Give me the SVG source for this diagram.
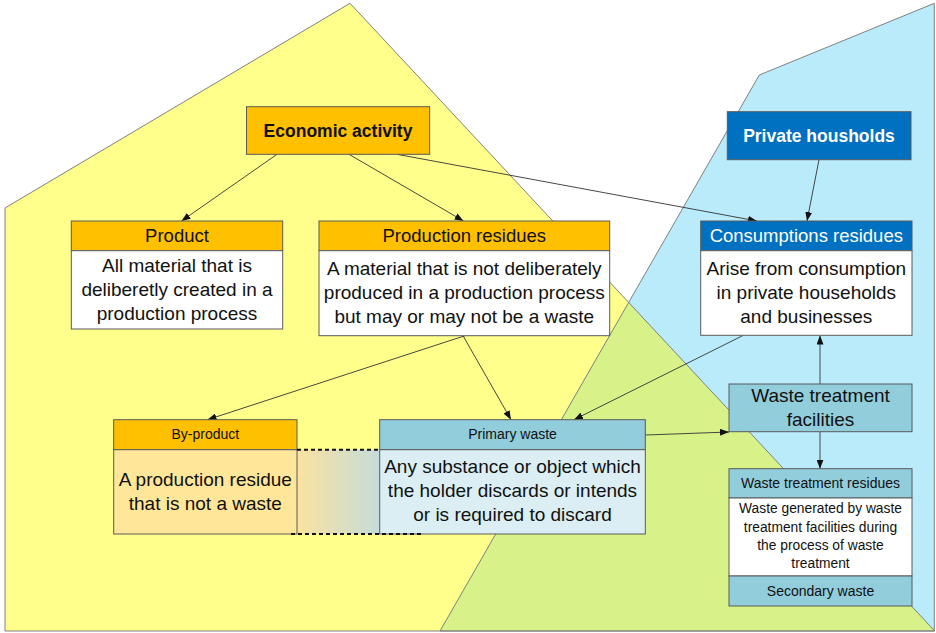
<svg xmlns="http://www.w3.org/2000/svg" width="936" height="633" viewBox="0 0 936 633">
  <defs>
    <style>
      .bg { stroke: none; }
      .outline { fill: none; stroke: #808080; stroke-width: 1; }
      .box { stroke: #5a5a5a; stroke-width: 1; }
      .orange { fill: #FFC000; }
      .blue { fill: #0070C0; }
      .teal { fill: #92CDDC; }
      .white { fill: #FFFFFF; }
      .pale { fill: #DAEEF3; }
      .cream { fill: #FFE699; }
      text { font-family: "Liberation Sans", Arial, sans-serif; text-anchor: middle; fill: #111111; }
      .t-bold { font-weight: bold; font-size: 17.5px; }
      .t-head { font-size: 18.5px; }
      .t-body { font-size: 19px; }
      .t-small { font-size: 14px; }
      .t-tiny { font-size: 13.8px; }
      .t-wt { fill: #FFFFFF; }
      .conn { fill: none; stroke: #333333; stroke-width: 0.9; marker-end: url(#arrow); }
      .dash { fill: none; stroke: #111111; stroke-width: 2; stroke-dasharray: 4 3; }
    </style>
    <marker id="arrow" markerUnits="userSpaceOnUse" markerWidth="9" markerHeight="7" refX="9" refY="3.5" orient="auto">
      <path d="M0,0 L9,3.5 L0,7 z" fill="#111111"/>
    </marker>
    <linearGradient id="fade" x1="0" y1="0" x2="1" y2="0">
      <stop offset="0" stop-color="#FBE29F"/>
      <stop offset="1" stop-color="#C5DCDA"/>
    </linearGradient>
  </defs>

  <!-- background regions -->
  <g id="regions">
    <polygon class="bg" fill="#FFFF8C" points="5,208 350,3.3 934.7,631 5,631"/>
    <polygon class="bg" fill="#B9EBFA" points="440,631 759.3,75 934.3,3.3 934.3,631"/>
    <polygon class="bg" fill="#D8F28A" points="628.7,302.5 934.7,631 440,631"/>
    <polygon class="outline" points="5,208 350,3.3 934.7,631 5,631"/>
    <polygon class="outline" points="440,631 759.3,75 934.3,3.3 934.3,631"/>
  </g>

  <!-- gradient fill between by-product and primary waste -->
  <g id="bridge-fill">
    <rect x="297" y="449.7" width="82.7" height="84.3" fill="url(#fade)"/>
  </g>

  <!-- connectors -->
  <g id="connectors">
    <line class="conn" x1="277" y1="154.3" x2="181.5" y2="221"/>
    <line class="conn" x1="349" y1="154.3" x2="463.5" y2="221"/>
    <line class="conn" x1="397" y1="154.3" x2="757" y2="221"/>
    <line class="conn" x1="819" y1="159.7" x2="807" y2="221"/>
    <line class="conn" x1="465" y1="335.7" x2="207.5" y2="419.7"/>
    <line class="conn" x1="463" y1="335.7" x2="511" y2="419.7"/>
    <line class="conn" x1="743" y1="335.5" x2="574" y2="419.7"/>
    <line class="conn" x1="645.3" y1="435" x2="729" y2="432"/>
    <line class="conn" x1="820" y1="384" x2="820" y2="335.5"/>
    <line class="conn" x1="820" y1="431.7" x2="820" y2="468.7"/>
  </g>

  <g id="economic-activity">
    <rect class="box orange" x="246.5" y="106.7" width="183.2" height="47.6"/>
    <text class="t-bold" x="338" y="137">Economic activity</text>
  </g>

  <g id="product">
    <rect class="box orange" x="71.3" y="221" width="211.4" height="29.7"/>
    <rect class="box white" x="71.3" y="250.7" width="211.4" height="78.3"/>
    <text class="t-head" x="177" y="242">Product</text>
    <text class="t-body" x="177" y="272">All material that is</text>
    <text class="t-body" x="177" y="296">deliberetly created in a</text>
    <text class="t-body" x="177" y="320">production process</text>
  </g>

  <g id="production-residues">
    <rect class="box orange" x="319" y="221" width="290.7" height="29.7"/>
    <rect class="box white" x="319" y="250.7" width="290.7" height="85"/>
    <text class="t-head" x="464.3" y="242">Production residues</text>
    <text class="t-body" x="464.3" y="275">A material that is not deliberately</text>
    <text class="t-body" x="464.3" y="299">produced in a production process</text>
    <text class="t-body" x="464.3" y="323">but may or may not be a waste</text>
  </g>

  <g id="private-households">
    <rect class="box blue" x="727.3" y="111.7" width="183.7" height="48"/>
    <text class="t-bold t-wt" x="819" y="142">Private housholds</text>
  </g>

  <g id="consumption-residues">
    <rect class="box blue" x="700.7" y="221" width="211.3" height="29.7"/>
    <rect class="box white" x="700.7" y="250.7" width="211.3" height="84.6"/>
    <text class="t-head t-wt" x="806.3" y="242">Consumptions residues</text>
    <text class="t-body" x="806.3" y="275">Arise from consumption</text>
    <text class="t-body" x="806.3" y="299">in private households</text>
    <text class="t-body" x="806.3" y="323">and businesses</text>
  </g>

  <g id="waste-treatment-facilities">
    <rect class="box teal" x="729" y="384" width="183" height="47.7"/>
    <text class="t-body" x="820.5" y="402">Waste treatment</text>
    <text class="t-body" x="820.5" y="426">facilities</text>
  </g>

  <g id="waste-treatment-residues">
    <rect class="box teal" x="729" y="468.7" width="183" height="29.3"/>
    <rect class="box white" x="729" y="498" width="183" height="78"/>
    <rect class="box teal" x="729" y="576" width="183" height="30"/>
    <text class="t-small" x="820.5" y="488">Waste treatment residues</text>
    <text class="t-tiny" x="820.5" y="513">Waste generated by waste</text>
    <text class="t-tiny" x="820.5" y="532">treatment facilities during</text>
    <text class="t-tiny" x="820.5" y="550">the process of waste</text>
    <text class="t-tiny" x="820.5" y="568">treatment</text>
    <text class="t-small" x="820.5" y="596">Secondary waste</text>
  </g>

  <g id="by-product">
    <rect class="box orange" x="113.7" y="419.7" width="183.3" height="30"/>
    <rect class="box cream" x="113.7" y="449.7" width="183.3" height="84.3"/>
    <text class="t-small" x="205.3" y="439">By-product</text>
    <text class="t-body" x="205.3" y="486">A production residue</text>
    <text class="t-body" x="205.3" y="510">that is not a waste</text>
  </g>

  <g id="primary-waste">
    <rect class="box teal" x="379.7" y="419.7" width="265.6" height="30"/>
    <rect class="box pale" x="379.7" y="449.7" width="265.6" height="84.3"/>
    <text class="t-small" x="512.5" y="439">Primary waste</text>
    <text class="t-body" x="512.5" y="473">Any substance or object which</text>
    <text class="t-body" x="512.5" y="497">the holder discards or intends</text>
    <text class="t-body" x="512.5" y="521">or is required to discard</text>
  </g>

  <!-- dashed edges of the by-product / primary waste bridge -->
  <g id="bridge-lines">
    <line class="dash" x1="297" y1="449.7" x2="379.7" y2="449.7"/>
    <line class="dash" x1="291" y1="534" x2="424" y2="534"/>
  </g>
</svg>
